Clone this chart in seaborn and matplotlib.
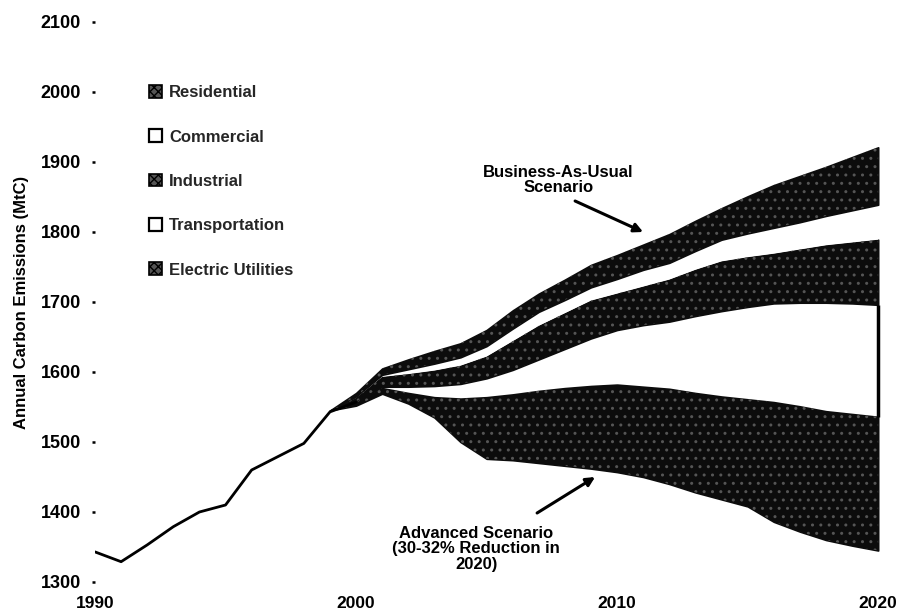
import numpy as np
import pandas as pd
import matplotlib
matplotlib.use("Agg")
import matplotlib.pyplot as plt
import seaborn as sns
from matplotlib.patches import Patch

# ---------------- data ----------------
hist_years = [1990, 1991, 1992, 1993, 1994, 1995, 1996, 1997, 1998, 1999, 2000]
hist_emissions = [1343, 1329, 1353, 1379, 1400, 1410, 1460, 1479, 1498, 1543, 1557]

wedge_years = list(range(1999, 2021))
# Advanced scenario (bottom of the stack)
advanced = [1545, 1552, 1569, 1555, 1535, 1500, 1476, 1474, 1470, 1466, 1462,
            1457, 1450, 1440, 1428, 1418, 1408, 1386, 1372, 1360, 1352, 1345]
# Wedge thicknesses by sector (MtC), stacked bottom -> top
electric = [0, 5, 8, 15, 29, 62, 88, 94, 103, 111, 118,
            125, 129, 136, 142, 147, 153, 171, 179, 184, 188, 191]
transportation = [0, 1, 2, 9, 16, 21, 27, 35, 45, 56, 68,
                  78, 88, 96, 110, 122, 132, 141, 148, 155, 158, 160]
industrial = [0, 5, 14, 18, 22, 26, 31, 41, 48, 51, 54,
              52, 55, 60, 66, 71, 71, 71, 76, 82, 87, 93]
commercial = [0, 2, 3, 7, 10, 12, 15, 18, 20, 19, 19,
              21, 24, 24, 27, 31, 34, 37, 39, 42, 46, 50]
residential = [0, 5, 9, 14, 18, 20, 23, 26, 26, 29, 32,
               34, 36, 41, 43, 45, 53, 61, 66, 70, 76, 82]

sector_names = ["Electric Utilities", "Transportation", "Industrial",
                "Commercial", "Residential"]
legend_order = ["Residential", "Commercial", "Industrial",
                "Transportation", "Electric Utilities"]
x_ticks = [1990, 2000, 2010, 2020]
y_ticks = [1300, 1400, 1500, 1600, 1700, 1800, 1900, 2000, 2100]

# ---------------- style ----------------
sns.set_theme(style="white")
plt.rcParams["font.family"] = ["Liberation Sans", "DejaVu Sans"]
plt.rcParams["font.weight"] = "bold"
plt.rcParams["hatch.linewidth"] = 1.0

fig = plt.figure(figsize=(8.97, 6.16), dpi=100)
W, H = 897, 616
ax = fig.add_axes([95 / W, (H - 582) / H, (886 - 95) / W, (582 - 22) / H])
ax.set_xlim(1990, 2020.3)
ax.set_ylim(1300, 2100)

# stacked wedges
df = pd.DataFrame({"year": wedge_years, "base": advanced,
                   "Electric Utilities": electric,
                   "Transportation": transportation,
                   "Industrial": industrial,
                   "Commercial": commercial,
                   "Residential": residential})
lower = df["base"].astype(float).to_numpy()
bounds = {}
dark = "#0c0c0c"
for name in sector_names:
    upper = lower + df[name].to_numpy()
    bounds[name] = (lower.copy(), upper.copy())
    if name in ("Electric Utilities", "Industrial", "Residential"):
        ax.fill_between(df["year"], lower, upper, facecolor=dark,
                        edgecolor=dark, linewidth=1.2, zorder=2)
        ax.fill_between(df["year"], lower, upper, facecolor="none",
                        edgecolor="#555555", hatch="..", linewidth=0, zorder=3)
    elif name == "Commercial":
        ax.fill_between(df["year"], lower, upper, facecolor="white",
                        edgecolor="none", linewidth=0, zorder=2)
    lower = upper

# right edge of the transportation wedge
t_lo, t_hi = bounds["Transportation"]
ax.vlines(df["year"].iloc[-1], t_lo[-1], t_hi[-1], color="black",
          linewidth=2.5, zorder=4)

# historical emissions
sns.lineplot(x=hist_years, y=hist_emissions, color="black", linewidth=2.0,
             ax=ax, zorder=5)

# faint scan dashed line at bottom
ax.axhline(1297, xmin=0.54, xmax=0.985, color="0.35", linewidth=1.0,
           dashes=(3, 5), zorder=1)

# axes styling
for s in ax.spines.values():
    s.set_visible(False)
ax.set_xticks(x_ticks)
ax.set_xticklabels([str(v) for v in x_ticks])
ax.set_yticks(y_ticks)
ax.set_yticklabels([str(v) for v in y_ticks])
ax.tick_params(axis="y", length=2, width=1.8, color="black", pad=8,
               labelsize=13, left=True)
ax.tick_params(axis="x", length=0, pad=10, labelsize=12.5)
for lab in ax.get_xticklabels() + ax.get_yticklabels():
    lab.set_fontweight("bold")
    lab.set_color("black")
ax.grid(False)

fig.text(22 / W, 1 - 302 / H, "Annual Carbon Emissions (MtC)", rotation=90,
         ha="center", va="center", fontsize=12, fontweight="bold",
         color="black")

# legend
hatched = dict(facecolor="#555555", edgecolor="black", hatch="xxxx",
               linewidth=1.2)
plain = dict(facecolor="white", edgecolor="black", linewidth=1.6)
handles = []
for name in legend_order:
    style = hatched if name in ("Residential", "Industrial",
                                "Electric Utilities") else plain
    handles.append(Patch(label=name, **style))
leg = fig.legend(handles=handles, loc="upper left",
                 bbox_to_anchor=(149 / W, 1 - 85 / H),
                 bbox_transform=fig.transFigure, frameon=False,
                 fontsize=12, handlelength=0.8, handleheight=0.8,
                 handletextpad=0.4, labelspacing=1.75, borderpad=0,
                 borderaxespad=0)
for t in leg.get_texts():
    t.set_fontweight("bold")


def px2data(px, py):
    return 1990 + (px - 95) / 26.1, 1300 + (582 - py) / 0.7


# annotations
ax.text(*px2data(558, 180), "Business-As-Usual\nScenario", ha="center",
        va="center", fontsize=12, fontweight="bold", linespacing=1.05,
        color="black")
ax.annotate("", xy=px2data(643, 232), xytext=px2data(575, 201),
            arrowprops=dict(arrowstyle="-|>", color="black", lw=2.2,
                            mutation_scale=13, shrinkA=0, shrinkB=0))
ax.text(*px2data(476, 549), "Advanced Scenario\n(30-32% Reduction in\n2020)",
        ha="center", va="center", fontsize=12, fontweight="bold",
        linespacing=1.08, color="black")
ax.annotate("", xy=px2data(595, 477), xytext=px2data(537, 513),
            arrowprops=dict(arrowstyle="-|>", color="black", lw=2.2,
                            mutation_scale=13, shrinkA=0, shrinkB=0))

fig.savefig("out.png", dpi=100, facecolor="white")
